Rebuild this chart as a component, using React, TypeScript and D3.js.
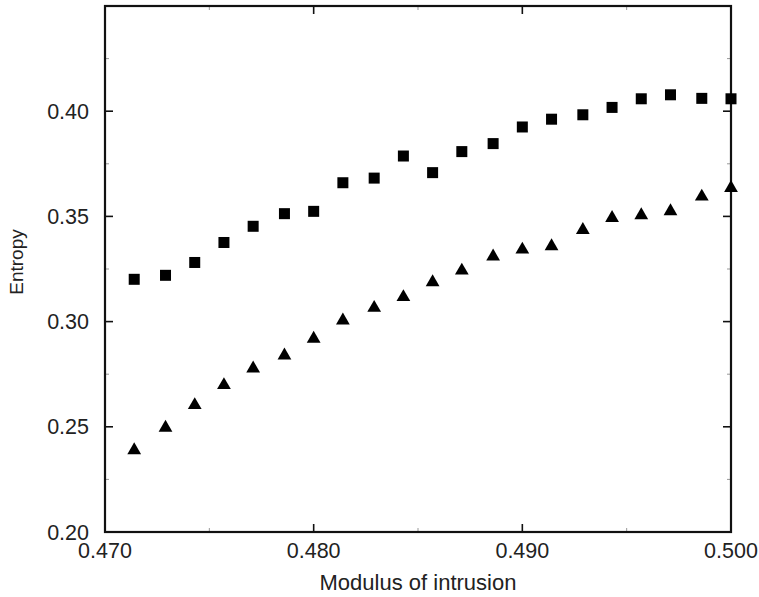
import React from "react";
import * as d3 from "d3";

const xValues = [
  0.4714, 0.4729, 0.4743, 0.4757, 0.4771, 0.4786, 0.48, 0.4814, 0.4829, 0.4843,
  0.4857, 0.4871, 0.4886, 0.49, 0.4914, 0.4929, 0.4943, 0.4957, 0.4971, 0.4986, 0.5,
];
const squareSeries = [
  0.3201, 0.322, 0.3281, 0.3376, 0.3453, 0.3513, 0.3524, 0.366, 0.3682, 0.3787,
  0.3708, 0.3808, 0.3846, 0.3925, 0.3962, 0.3983, 0.4018, 0.4059, 0.4078, 0.4061, 0.4059,
];
const triangleSeries = [
  0.2393, 0.25, 0.2608, 0.2703, 0.2782, 0.2844, 0.2923, 0.301, 0.307, 0.3121,
  0.3192, 0.3247, 0.3314, 0.3347, 0.3363, 0.344, 0.3497, 0.351, 0.3529, 0.3599, 0.364,
];
const xMajorTicks = [0.47, 0.48, 0.49, 0.5];
const xMinorTicks = [0.475, 0.485, 0.495];
const yMajorTicks = [0.2, 0.25, 0.3, 0.35, 0.4];
const yMinorTicks = [0.225, 0.275, 0.325, 0.375, 0.425];
const xTitle = "Modulus of intrusion";
const yTitle = "Entropy";

const W = 759;
const H = 597;
const L = 105, R = 731, T = 6, B = 532;
const FONT = "'Liberation Sans', Arial, Helvetica, sans-serif";

export default function App() {
  const x = d3.scaleLinear().domain([0.47, 0.5]).range([L, R]);
  const y = d3.scaleLinear().domain([0.2, 0.45]).range([B, T]);
  const fx = d3.format(".3f");
  const fy = d3.format(".2f");
  const sq = 11;
  const tri = d3.symbol().type(d3.symbolTriangle).size(82);

  return (
    <svg
      width={W}
      height={H}
      style={{ position: "absolute", left: 0, top: 0, background: "#fff" }}
      fontFamily={FONT}
    >
      {/* minor ticks */}
      <g stroke="#999" strokeWidth={1}>
        {xMinorTicks.map((t) => (
          <g key={"xm" + t}>
            <line x1={x(t)} x2={x(t)} y1={B} y2={B - 4} />
            <line x1={x(t)} x2={x(t)} y1={T} y2={T + 4} />
          </g>
        ))}
        {yMinorTicks.map((t) => (
          <g key={"ym" + t}>
            <line x1={L} x2={L + 4} y1={y(t)} y2={y(t)} />
            <line x1={R} x2={R - 4} y1={y(t)} y2={y(t)} />
          </g>
        ))}
      </g>
      {/* major ticks */}
      <g stroke="#111" strokeWidth={1.6}>
        {xMajorTicks.map((t) => (
          <g key={"xM" + t}>
            <line x1={x(t)} x2={x(t)} y1={B} y2={B - 8} />
            <line x1={x(t)} x2={x(t)} y1={T} y2={T + 8} />
          </g>
        ))}
        {yMajorTicks.map((t) => (
          <g key={"yM" + t}>
            <line x1={L} x2={L + 8} y1={y(t)} y2={y(t)} />
            <line x1={R} x2={R - 8} y1={y(t)} y2={y(t)} />
          </g>
        ))}
      </g>
      {/* frame */}
      <rect x={L} y={T} width={R - L} height={B - T} fill="none" stroke="#111" strokeWidth={2.2} />
      {/* tick labels */}
      <g fontSize={21.5} fill="#222">
        {xMajorTicks.map((t) => (
          <text key={"xl" + t} x={x(t)} y={B + 26} textAnchor="middle">
            {fx(t)}
          </text>
        ))}
        {yMajorTicks.map((t) => (
          <text key={"yl" + t} x={L - 16} y={y(t) + 7.5} textAnchor="end">
            {fy(t)}
          </text>
        ))}
      </g>
      {/* titles */}
      <text x={(L + R) / 2} y={590} textAnchor="middle" fontSize={22} fill="#222">
        {xTitle}
      </text>
      <text
        transform={`translate(23, 262) rotate(-90)`}
        textAnchor="middle"
        fontSize={19}
        fill="#222"
      >
        {yTitle}
      </text>
      {/* data */}
      <g fill="#000">
        {xValues.map((xv, i) => (
          <rect
            key={"s" + i}
            x={x(xv) - sq / 2}
            y={y(squareSeries[i]) - sq / 2}
            width={sq}
            height={sq}
          />
        ))}
        {xValues.map((xv, i) => (
          <path
            key={"t" + i}
            d={tri()!}
            transform={`translate(${x(xv)}, ${y(triangleSeries[i]) + 1})`}
          />
        ))}
      </g>
    </svg>
  );
}
